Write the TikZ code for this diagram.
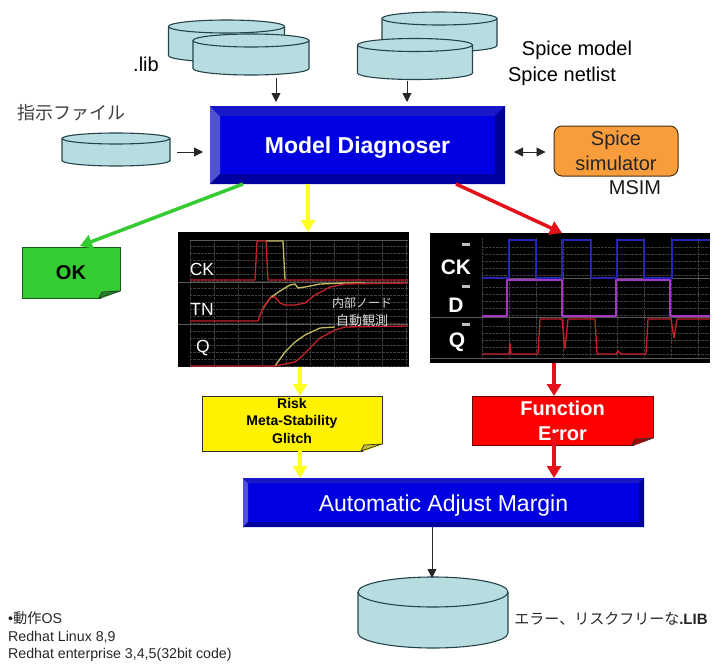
\documentclass[tikz,border=0pt]{standalone}
\usepackage{fontspec}
\setmainfont{Liberation Sans}
\newfontfamily\jpfont{Noto Sans CJK JP}
\usetikzlibrary{arrows.meta}

\definecolor{diskfill}{HTML}{B8DDE0}
\definecolor{diskline}{HTML}{24444A}
\definecolor{boxblue}{HTML}{0000E0}
\definecolor{bevleft}{HTML}{5050D8}
\definecolor{bevtop}{HTML}{1818C8}
\definecolor{bevbot}{HTML}{0000A0}
\definecolor{bevright}{HTML}{000098}
\definecolor{simfill}{HTML}{F89C3C}
\definecolor{okfill}{HTML}{34CC32}
\definecolor{fatred}{HTML}{E4101A}
\definecolor{fatyel}{HTML}{FFFF20}
\definecolor{tracered}{HTML}{C8202A}
\definecolor{traceyel}{HTML}{C4BE60}
\definecolor{traceblue}{HTML}{2525B5}
\definecolor{tracepur}{HTML}{A535C5}

\tikzset{
    disk/.style={rectangle, inner sep=0pt, outer sep=0pt},
    diskface/.style={draw=diskline, fill=diskfill, line width=1.1pt},
    bluebox/.style={rectangle, fill=boxblue, text=white, inner sep=0pt, outer sep=0pt},
    notebox/.style={rectangle, draw=black!80, line width=1pt, inner sep=0pt, outer sep=0pt, align=center},
    plot/.style={rectangle, fill=black, inner sep=0pt, outer sep=0pt},
    small/.style={-{Triangle[length=9pt,width=9pt]}, line width=.9pt, black!85},
    fat/.style={-{Triangle[length=12pt,width=14pt]}, line width=3.5pt},
    griddots/.style={densely dotted, line width=.35pt, white!24!black},
    sep/.style={line width=1pt, white!35!black},
    trace/.style={line width=1.3pt, line join=round}
}

\newcommand{\fs}[1]{\fontsize{#1}{#1}\selectfont}

%Body and top face of a disk: node name, x radius, y radius.
\newcommand{\diskbody}[3]{
    \filldraw[diskface] ([yshift=-#3]#1.north west) -- ([yshift=#3]#1.south west) arc[start angle=180, end angle=360, x radius=#2, y radius=#3] -- ([yshift=-#3]#1.north east) arc[start angle=0, end angle=180, x radius=#2, y radius=#3] -- cycle;
    \draw[diskface, fill=none] ([yshift=-#3]#1.north west) arc[start angle=180, end angle=360, x radius=#2, y radius=#3];
}

%Bevel faces round a blue box.
\newcommand{\bevel}[2]{
    \fill[bevleft] (#1.north west) -- (#1.south west) -- ([xshift=#2,yshift=#2]#1.south west) -- ([xshift=#2,yshift=-#2]#1.north west) -- cycle;
    \fill[bevtop] (#1.north west) -- (#1.north east) -- ([xshift=-#2,yshift=-#2]#1.north east) -- ([xshift=#2,yshift=-#2]#1.north west) -- cycle;
    \fill[bevbot] (#1.south west) -- (#1.south east) -- ([xshift=-#2,yshift=#2]#1.south east) -- ([xshift=#2,yshift=#2]#1.south west) -- cycle;
    \fill[bevright] (#1.north east) -- (#1.south east) -- ([xshift=-#2,yshift=#2]#1.south east) -- ([xshift=-#2,yshift=-#2]#1.north east) -- cycle;
}

%Folded corner of a note.
\newcommand{\notefold}[2]{
    \fill[white] ([xshift=1.5pt,yshift=7pt]#1.south east) -- ([xshift=1.5pt,yshift=-1.5pt]#1.south east) -- ([xshift=-21pt,yshift=-1.5pt]#1.south east) -- cycle;
    \filldraw[fill=#2, draw=black!80, line width=.7pt, line join=round] ([yshift=7pt]#1.south east) -- ([xshift=-21pt]#1.south east) -- ([xshift=-18pt,yshift=6pt]#1.south east) -- cycle;
}

\begin{document}
\begin{tikzpicture}[x=1pt, y=-1pt]
            \useasboundingbox (0, 0) rectangle (721, 664);

            \node (libback) at (226.5, 41) [disk, minimum width=116, minimum height=42] {};
            \diskbody{libback}{58pt}{6.5pt}
            \node (libfront) at (251, 54.5) [disk, minimum width=116, minimum height=41] {};
            \diskbody{libfront}{58pt}{6.5pt}
            \node (spiback) at (439.5, 32) [disk, minimum width=115, minimum height=40] {};
            \diskbody{spiback}{57.5pt}{6.5pt}
            \node (spifront) at (415, 59) [disk, minimum width=115, minimum height=41] {};
            \diskbody{spifront}{57.5pt}{6.5pt}
            \node (cmdfile) at (116, 149.5) [disk, minimum width=108, minimum height=33] {};
            \diskbody{cmdfile}{54pt}{5.5pt}
            \node (outlib) at (433, 612.5) [disk, minimum width=150, minimum height=71] {};
            \diskbody{outlib}{75pt}{15pt}

            \node (libtxt) at (146, 64) [font=\fs{20}] {.lib};
            \node (modeltxt) at (577, 50) [font=\fs{20}] {Spice model};
            \node (netlisttxt) at (562, 76) [font=\fs{20}] {Spice netlist};
            \node (cmdtxt) at (71, 113) [text=black!75, font=\fs{18}\jpfont] {指示ファイル};
            \node (msimtxt) at (635, 188) [text=black!90, font=\fs{20}] {MSIM};
            \node (outtxt) at (611, 619) [text=black!85, font=\fs{15}] {{\jpfont エラー、リスクフリーな}\textbf{.LIB}};
            \node (ostxt) at (8, 637) [anchor=west, align=left, inner sep=0pt, text=black!85, font=\fontsize{14.2}{17.5}\selectfont] {•{\jpfont 動作}OS\\Redhat Linux 8,9\\Redhat enterprise 3,4,5(32bit code)};

            \node (diag) at (357.5, 145) [bluebox, minimum width=295, minimum height=78, text height=22.5pt, font=\fs{23}\bfseries] {Model Diagnoser};
            \bevel{diag}{10pt}
            \node (adjust) at (443.5, 502.5) [bluebox, minimum width=401, minimum height=49, text height=22.5pt, font=\fs{23}] {Automatic Adjust Margin};
            \bevel{adjust}{5pt}

            \node (sim) at (616, 151) [rectangle, rounded corners=8pt, draw=black!70!simfill, fill=simfill, line width=1pt, minimum width=124, minimum height=50, inner sep=0pt, align=center, text=black!85, font=\fontsize{20}{25}\selectfont] {Spice\\simulator};

            \node (ok) at (71, 272.5) [notebox, draw=okfill!45!black, fill=okfill, minimum width=98, minimum height=51, font=\fs{20}\bfseries] {OK};
            \notefold{ok}{okfill!65!black}
            \node (risk) at (292, 423.5) [notebox, fill=yellow, minimum width=180, minimum height=55] {};
            \notefold{risk}{yellow!75!black}
            \node (risktxt) at (292, 420.5) [align=center, text=black, font=\fontsize{14}{17.5}\selectfont\bfseries] {Risk\\Meta-Stability\\Glitch};
            \node (err) at (562.5, 420.5) [notebox, draw=red!45!black, fill=red, minimum width=181, minimum height=49, text=white, font=\fontsize{20}{25}\selectfont\bfseries] {Function\\Error};
            \notefold{err}{red!65!black}

            %Left plot.
            \node (plotl) at (293, 299.5) [plot, minimum width=231, minimum height=135] {};
            \foreach \gy in {246, 253, ..., 281, 288, 295, ..., 323, 331, 338, ..., 366}
                \draw[griddots] (190, \gy) -- (408, \gy);
            \foreach \gx in {190, 214, ..., 408}
                \draw[griddots] (\gx, 240) -- (\gx, 366);
            \draw[sep] (190, 240) -- (408, 240);
            \draw[sep] (178, 282) -- (408, 282);
            \draw[sep] (178, 324) -- (408, 324);
            \draw[trace, traceyel] (266, 241) -- (283, 241) -- (285, 280);
            \draw[trace, tracered] (190, 280) -- (255, 280) -- (257, 241) -- (266, 241) -- (268, 280) -- (408, 280);
            \draw[trace, traceyel] (262, 310) -- (270, 298) -- (280, 291) -- (290, 285) -- (295, 284) -- (298, 288) -- (305, 287) -- (320, 284) -- (345, 283) -- (365, 283);
            \draw[trace, tracered] (190, 321) -- (258, 321) -- (262, 310) -- (270, 298) -- (275, 297) -- (280, 303) -- (285, 305) -- (295, 305) -- (305, 303) -- (315, 295) -- (330, 287) -- (345, 284) -- (408, 283);
            \draw[trace, traceyel] (275, 366) -- (285, 352) -- (295, 342) -- (305, 335) -- (320, 328) -- (335, 327);
            \draw[trace, tracered] (190, 366) -- (275, 366) -- (295, 362) -- (300, 358) -- (310, 348) -- (320, 338) -- (335, 330) -- (345, 327) -- (408, 326);
            \node (ckl) at (202, 269) [text=white, font=\fs{17.5}] {CK};
            \node (tnl) at (202, 309) [text=white, font=\fs{17.5}] {TN};
            \node (ql) at (203, 348) [text=white, font=\fs{17.5}] {Q};
            \node (nodetxt) at (362, 303) [text=white!85!black, font=\fs{12}\jpfont] {内部ノード};
            \node (autotxt) at (362, 321) [text=white!85!black, font=\fs{13}\jpfont] {自動観測};

            %Right plot.
            \node (plotr) at (570, 298) [plot, minimum width=280, minimum height=130] {};
            \foreach \gy in {247, 254, ..., 275, 287, 294, ..., 315, 326, 333, ..., 354}
                \draw[griddots] (482, \gy) -- (710, \gy);
            \foreach \gx in {482, 509, ..., 710}
                \draw[griddots] (\gx, 238) -- (\gx, 358);
            \draw[sep] (482, 278) -- (710, 278);
            \draw[sep] (430, 317) -- (710, 317);
            \draw[sep] (430, 358) -- (710, 358);
            \foreach \gy in {243, 285, 323}
                \fill[white!75!black] (462, \gy) rectangle (470, \gy + 3);
            \draw[trace, traceblue] (482, 278) -- (509, 278) -- (509, 240) -- (536, 240) -- (536, 278) -- (562, 278) -- (562, 240) -- (591, 240) -- (591, 278) -- (617, 278) -- (617, 240) -- (644, 240) -- (644, 278) -- (672, 278) -- (672, 240) -- (710, 240);
            \draw[trace, tracepur] (482, 316) -- (507, 316) -- (507, 280) -- (562, 280) -- (562, 316) -- (616, 316) -- (616, 280) -- (670, 280) -- (670, 316) -- (710, 316);
            \draw[trace, tracered] (482, 354) -- (509, 354) -- (510, 343) -- (511, 354) -- (538, 354) -- (540, 319) -- (562, 319) -- (565, 349) -- (568, 319) -- (595, 319) -- (597, 354) -- (616, 354) -- (618, 351) -- (621, 354) -- (646, 354) -- (648, 319) -- (671, 319) -- (674, 338) -- (677, 319) -- (710, 319);
            \node (ckr) at (456, 267) [text=white, font=\fs{21}\bfseries] {CK};
            \node (dr) at (456, 305) [text=white, font=\fs{21}\bfseries] {D};
            \node (qr) at (457, 342) [text=white, font=\fs{21}\bfseries] {Q};

            %Thin arrows.
            \draw[small] ([xshift=25pt,yshift=-3pt]libfront.south) -- ([xshift=-81.5pt,yshift=4pt]diag.north);
            \draw[small] ([xshift=-8pt,yshift=-1pt]spifront.south) -- ([xshift=49.5pt,yshift=4pt]diag.north);
            \draw[small] ([xshift=7pt,yshift=-2.5pt]cmdfile.east) -- ([xshift=-7pt,yshift=-7pt]diag.west);
            \draw[small, {Triangle[length=9pt,width=9pt]}-{Triangle[length=9pt,width=9pt]}] ([xshift=9pt,yshift=-7pt]diag.east) -- ([xshift=-8pt,yshift=-1pt]sim.west);
            \draw[small] ([xshift=-11.5pt]adjust.south) -- ([xshift=-1pt,yshift=-1pt]outlib.north);

            %Fat coloured arrows.
            \draw[fat, okfill] ([xshift=33pt]diag.south west) -- ([xshift=9pt,yshift=1pt]ok.north);
            \draw[fat, fatyel] ([xshift=-49.5pt]diag.south) -- ([xshift=15pt]plotl.north);
            \draw[fat, fatred] ([xshift=-49pt]diag.south east) -- ([xshift=-8pt]plotr.north);
            \draw[fat, fatyel] ([xshift=7pt]plotl.south) -- ([xshift=8pt]risk.north);
            \draw[fat, fatyel] ([xshift=8pt]risk.south) -- ([xshift=-143.5pt]adjust.north);
            \draw[fat, fatred, line width=4.5pt] ([xshift=-16pt]plotr.south) -- ([xshift=-8.5pt]err.north);
            \draw[fat, fatred, line width=4.5pt] ([xshift=-8.5pt,yshift=12pt]err.south) -- ([xshift=110.5pt]adjust.north);
\end{tikzpicture}
\end{document}
